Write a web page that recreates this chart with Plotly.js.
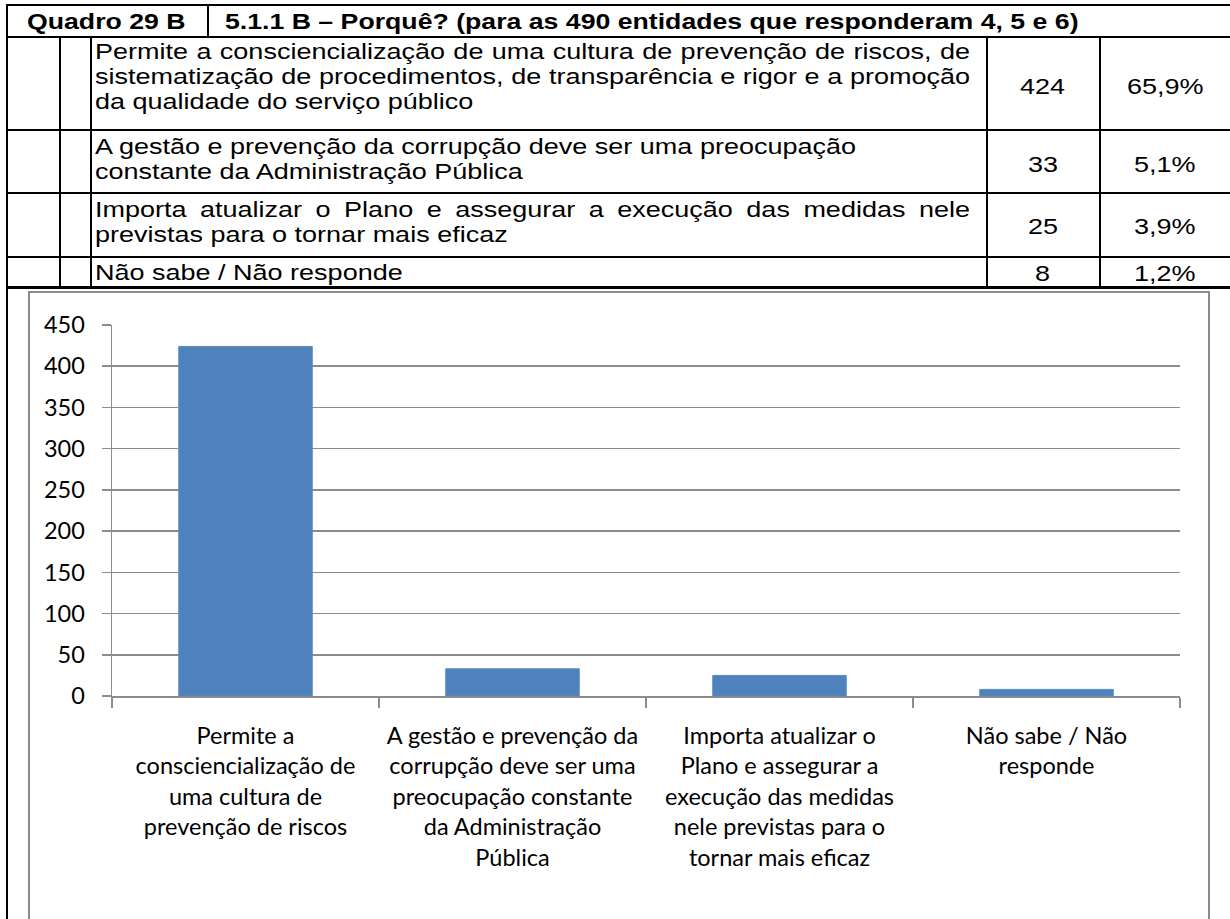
<!DOCTYPE html>
<html>
<head>
<meta charset="utf-8">
<script src="https://cdn.plot.ly/plotly-3.0.1.min.js"></script>
<style>
  html, body { margin:0; padding:0; background:#fff; }
  #page { position:relative; width:1230px; height:919px; overflow:hidden; background:#fff; }
  #chart { position:absolute; left:0; top:0; width:1230px; height:919px; }
  #overlay { position:absolute; left:0; top:0; width:1230px; height:919px; pointer-events:none; }
  .ln { position:absolute; background:#000; }
  .frame { position:absolute; background:#8c8c8c; }
  .tx { position:absolute; font-family:"Liberation Sans", Arial, sans-serif; font-size:22.5px; line-height:25px;
        color:#000; white-space:nowrap; transform-origin:0 0; }
</style>
</head>
<body>
<div id="page">
  <div id="chart"></div>
  <div id="overlay"></div>
</div>
<script>
// ---------------- data ----------------
const tableCode = "Quadro 29 B";
const tableTitle = "5.1.1 B – Porquê? (para as 490 entidades que responderam 4, 5 e 6)";
const answerLines = [
  ["Permite a consciencialização de uma cultura de prevenção de riscos, de",
   "sistematização de procedimentos, de transparência e rigor e a promoção",
   "da qualidade do serviço público"],
  ["A gestão e prevenção da corrupção deve ser uma preocupação",
   "constante da Administração Pública"],
  ["Importa atualizar o Plano e assegurar a execução das medidas nele",
   "previstas para o tornar mais eficaz"],
  ["Não sabe / Não responde"]
];
const counts = [424, 33, 25, 8];
const percents = ["65,9%", "5,1%", "3,9%", "1,2%"];
const categories = [
  "Permite a<br>consciencialização de<br>uma cultura de<br>prevenção de riscos",
  "A gestão e prevenção da<br>corrupção deve ser uma<br>preocupação constante<br>da Administração<br>Pública",
  "Importa atualizar o<br>Plano e assegurar a<br>execução das medidas<br>nele previstas para o<br>tornar mais eficaz",
  "Não sabe / Não<br>responde"
];
const yTicks = [0, 50, 100, 150, 200, 250, 300, 350, 400, 450];

// ---------------- table (HTML overlay) ----------------
const ov = document.getElementById('overlay');
const SX = 1.2;
function line(x, y, w, h, cls) {
  const d = document.createElement('div');
  d.className = cls || 'ln';
  d.style.left = x + 'px'; d.style.top = y + 'px';
  d.style.width = w + 'px'; d.style.height = h + 'px';
  ov.appendChild(d);
}
function text(str, x, yCenter, opts) {
  opts = opts || {};
  const sx = opts.sx || SX;
  const d = document.createElement('div');
  d.className = 'tx';
  d.textContent = str;
  if (opts.bold) d.style.fontWeight = 'bold';
  d.style.top = (yCenter - 13) + 'px';
  if (opts.justifyWidth) {
    d.style.width = (opts.justifyWidth / sx) + 'px';
    d.style.textAlign = 'justify';
    d.style.textAlignLast = 'justify';
    d.style.whiteSpace = 'normal';
  }
  d.style.left = x + 'px';
  d.style.transform = 'scaleX(' + sx + ')';
  ov.appendChild(d);
  if (opts.center !== undefined) {
    const w = d.getBoundingClientRect().width;
    d.style.left = (opts.center - w / 2) + 'px';
  }
  return d;
}

// chart frame (grey)
line(29, 291, 1180, 2, 'frame');
line(28, 291, 2, 640, 'frame');
line(1208, 291, 2, 640, 'frame');

// table lines
line(6, 4, 1224, 2);          // top
line(6, 36, 1224, 2);         // below header
line(6, 129, 1224, 2);
line(6, 192, 1224, 2);
line(6, 256, 1224, 2);
line(6, 286, 1224, 3);        // bottom
line(6, 4, 2, 915);           // left border (continues down)
line(207, 4, 2, 33);          // header separator
[59, 90, 986, 1099].forEach(x => line(x, 36, 2, 252));

// header texts
text(tableCode, 27, 22, {bold:true, sx:1.185});
text(tableTitle, 225, 22, {bold:true, sx:1.185});

// answer rows
const rowLineCenters = [[52, 77, 102], [147, 172], [210, 235], [273]];
const justified = [[true, true, false], [false, false], [true, false], [false]];
const countCenters = [87, 165, 227, 274];
answerLines.forEach((lines, r) => {
  lines.forEach((s, i) => {
    text(s, 95, rowLineCenters[r][i], justified[r][i] ? {justifyWidth: 875} : {});
  });
  text(String(counts[r]), 0, countCenters[r], {center: 1043});
  text(percents[r], 0, countCenters[r], {center: 1165});
});

// ---------------- chart ----------------
const grey = '#8c8c8c';
const fontChart = {family: 'Lato, "Open Sans", sans-serif', size: 23.5, color: '#000'};
const data = [{
  type: 'bar',
  x: categories,
  y: counts,
  width: 0.5,
  marker: {color: '#4F81BD', line: {color: '#5A8AC4', width: 1}},
  hoverinfo: 'none'
}];
const layout = {
  width: 1230, height: 919,
  margin: {l: 112, r: 50, t: 325, b: 223, pad: 0},
  paper_bgcolor: '#fff', plot_bgcolor: '#fff',
  showlegend: false,
  bargap: 0.5,
  xaxis: {
    type: 'category', automargin: false,
    showline: true, linecolor: grey, linewidth: 1.5,
    ticks: 'outside', tickson: 'boundaries', ticklen: 10, tickcolor: grey, tickwidth: 1.5,
    showgrid: false, zeroline: false,
    tickfont: fontChart, tickangle: 0,
    ticklabelstandoff: 18
  },
  yaxis: {
    range: [0, 450], tickmode: 'array', tickvals: yTicks, ticktext: yTicks.map(String),
    automargin: false,
    showline: true, linecolor: grey, linewidth: 1.5,
    ticks: 'outside', ticklen: 9, tickcolor: grey, tickwidth: 1.5,
    showgrid: true, gridcolor: grey, gridwidth: 1.5, zeroline: false,
    tickfont: fontChart,
    ticklabelstandoff: 12
  }
};
Plotly.newPlot('chart', data, layout, {staticPlot: true, displayModeBar: false});
</script>
</body>
</html>
